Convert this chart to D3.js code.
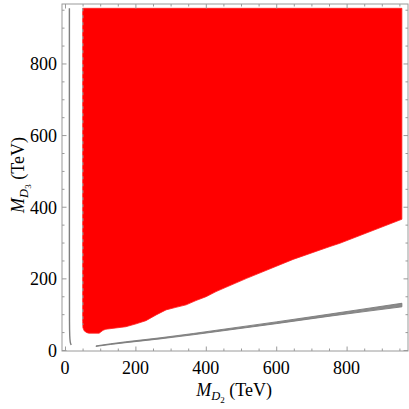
<!DOCTYPE html>
<html><head><meta charset="utf-8">
<script src="https://cdn.jsdelivr.net/npm/d3@7"></script>
<style>
html,body{margin:0;padding:0;background:#fff;}
svg{display:block;}
</style></head>
<body>
<svg id="c" width="409" height="409"></svg>
<script>
// --- data ---
const xTicksMajor = [0, 200, 400, 600, 800];
const yTicksMajor = [0, 200, 400, 600, 800];
const redTop = 954;
const redRight = 957;
const redLeft = 50.3;
const redLowerX = [50.3, 51, 55, 62, 68, 97, 108, 116, 173, 202, 230, 259, 287, 315, 344, 372, 401, 429, 457, 516, 648, 753, 781, 957];
const redLowerY = [80, 62, 53, 48.5, 47, 47, 55, 58, 65, 73, 82, 98, 112, 119, 126, 138, 149, 163, 175, 200, 253, 289, 298, 365];
const leftLineX = [12.5, 12.5, 12.8, 13.5, 15, 17.5];
const leftLineY = [954, 300, 80, 40, 22, 14];
const bandX  = [88, 130, 173, 270, 364, 440, 600, 753, 957];
const bandLo = [10, 15.5, 20.5, 31, 42.5, 52.5, 73.5, 94.5, 120.5];
const bandHi = [11.5, 17.5, 23, 34, 46, 56.5, 78.5, 100.5, 130.5];

const FONT = "'Liberation Serif', 'DejaVu Serif', serif";
const svg = d3.select("#c");
const x = d3.scaleLinear().domain([-8.5, 974.4]).range([62, 408]);
const y = d3.scaleLinear().domain([-2.8, 966]).range([351, 4]);

// red region
const redPts = [[redLeft, redTop], [redRight, redTop]];
for (let i = redLowerX.length - 1; i >= 0; i--) redPts.push([redLowerX[i], redLowerY[i]]);
svg.append("path")
  .attr("d", d3.line().x(d => x(d[0])).y(d => y(d[1])).curve(d3.curveLinearClosed)(redPts))
  .attr("fill", "#ff0000").attr("stroke", "#ff2020").attr("stroke-width", 0.8);

// dashed left edge of red region
svg.append("line")
  .attr("x1", x(redLeft)).attr("x2", x(redLeft))
  .attr("y1", y(redTop)).attr("y2", y(70))
  .attr("stroke", "#a0a0a0").attr("stroke-width", 1.3).attr("stroke-dasharray", "3,4");

// left gray contour
svg.append("path")
  .attr("d", d3.line().x(d => x(d[0])).y(d => y(d[1])).curve(d3.curveMonotoneY)(leftLineX.map((v, i) => [v, leftLineY[i]])))
  .attr("fill", "none").attr("stroke", "#7f7f7f").attr("stroke-width", 1.4);

// bottom gray band
const bandData = bandX.map((v, i) => [v, bandLo[i], bandHi[i]]);
svg.append("path")
  .attr("d", d3.area().x(d => x(d[0])).y0(d => y(d[1])).y1(d => y(d[2])).curve(d3.curveMonotoneX)(bandData))
  .attr("fill", "#8a8a8a").attr("stroke", "#7a7a7a").attr("stroke-width", 0.9);

// frame
const fc = "#9a9a9a";
svg.append("rect").attr("x", 62).attr("y", 4).attr("width", 346).attr("height", 347)
  .attr("fill", "none").attr("stroke", fc).attr("stroke-width", 1);

const minor = d3.range(0, 951, 50).filter(v => v % 200 !== 0);
function ticks(axisFn, scale, transform, values, size) {
  const g = svg.append("g").attr("transform", transform)
    .call(axisFn(scale).tickValues(values).tickSize(size).tickFormat(""));
  g.select(".domain").remove();
  g.selectAll("line").attr("stroke", fc).attr("stroke-width", 1);
}
ticks(d3.axisBottom, x, "translate(0,351)", xTicksMajor, -4.5);
ticks(d3.axisBottom, x, "translate(0,351)", minor, -2.5);
ticks(d3.axisTop, x, "translate(0,4)", xTicksMajor, -4.5);
ticks(d3.axisTop, x, "translate(0,4)", minor, -2.5);
ticks(d3.axisLeft, y, "translate(62,0)", yTicksMajor, -4.5);
ticks(d3.axisLeft, y, "translate(62,0)", minor, -2.5);
ticks(d3.axisRight, y, "translate(408,0)", yTicksMajor, -4.5);
ticks(d3.axisRight, y, "translate(408,0)", minor, -2.5);

// tick labels
svg.selectAll(".xl").data(xTicksMajor).enter().append("text")
  .attr("x", d => x(d)).attr("y", 374).attr("text-anchor", "middle")
  .attr("font-family", FONT).attr("font-size", 18).attr("fill", "#000").text(d => d);
svg.selectAll(".yl").data(yTicksMajor).enter().append("text")
  .attr("x", 57).attr("y", d => y(d) + 7).attr("text-anchor", "end")
  .attr("font-family", FONT).attr("font-size", 18).attr("fill", "#000").text(d => d);

// axis titles
function title(sub, transform) {
  const tx = svg.append("text").attr("transform", transform).attr("text-anchor", "middle")
    .attr("font-family", FONT).attr("font-size", 18).attr("fill", "#000");
  tx.append("tspan").attr("font-style", "italic").text("M");
  tx.append("tspan").attr("font-style", "italic").attr("font-size", 12.5).attr("dy", 4).text("D");
  tx.append("tspan").attr("font-size", 9).attr("dy", 3).text(sub);
  tx.append("tspan").attr("dy", -7).text(" (TeV)");
}
title("2", "translate(234,396)");
title("3", "translate(24,175) rotate(-90)");
</script>
</body></html>
